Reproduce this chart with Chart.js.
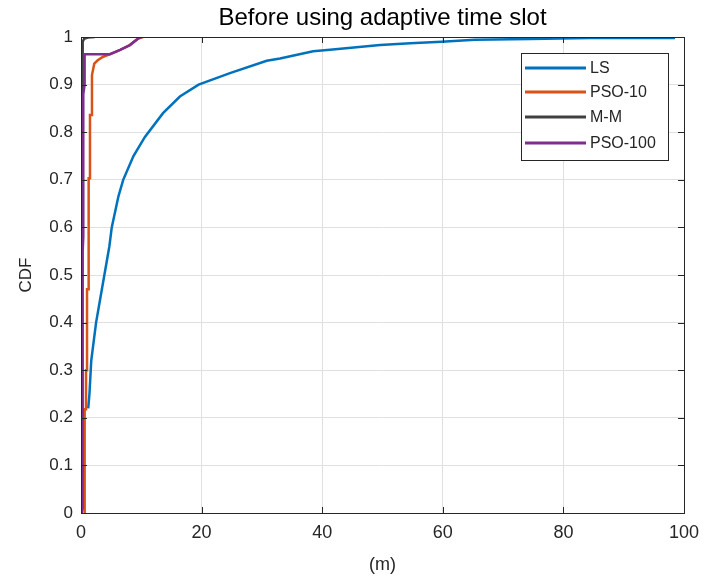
<!DOCTYPE html>
<html>
<head>
<meta charset="utf-8">
<script src="https://cdn.jsdelivr.net/npm/chart.js@4.4.0/dist/chart.umd.min.js"></script>
<style>
  html, body { margin: 0; padding: 0; background: #fff; }
  #wrap { width: 705px; height: 578px; position: relative; }
</style>
</head>
<body>
<div id="wrap"><canvas id="chart"></canvas></div>
<script>
// values
const chartTitle = 'Before using adaptive time slot';
const seriesNames = ['LS', 'PSO-10', 'M-M', 'PSO-100'];
const seriesColors = ['#0072BD', '#D95319', '#404040', '#7E2F8E'];

const lsX = [1.2, 1.4, 1.7, 2.5, 3.6, 4.7, 5.1, 6.2, 7.0, 8.7, 10.6, 13.6, 16.4, 19.5, 24.7, 30.8, 33, 38.5, 41.3, 49.6, 54.6, 59.8, 65.3, 74.5, 84.4, 98.5];
const lsY = [0.22, 0.25, 0.32, 0.40, 0.48, 0.56, 0.60, 0.665, 0.70, 0.75, 0.79, 0.84, 0.875, 0.90, 0.924, 0.95, 0.955, 0.97, 0.973, 0.983, 0.987, 0.99, 0.994, 0.996, 0.998, 0.998];

const pso10X = [0.5, 0.5, 0.66, 0.66, 0.83, 0.83, 1.0, 1.0, 1.27, 1.27, 1.49, 1.49, 1.82, 1.82, 2.2, 2.77, 3.6, 5.25, 6.5, 8.1, 9.5, 10.3];
const pso10Y = [0, 0.043, 0.043, 0.218, 0.218, 0.30, 0.30, 0.47, 0.47, 0.703, 0.703, 0.836, 0.836, 0.92, 0.944, 0.951, 0.958, 0.966, 0.973, 0.983, 0.997, 1];

const mmX = [0.05, 0.05, 0.15, 0.15, 0.28, 0.28, 0.5, 1.1, 2.3];
const mmY = [0, 0.52, 0.53, 0.56, 0.6, 0.99, 0.996, 0.999, 1];

const pso100X = [0.1, 0.28, 0.28, 0.38, 0.38, 0.6, 0.6, 4.8, 6.5, 8.1, 9.5, 10.0];
const pso100Y = [0, 0.01, 0.55, 0.58, 0.88, 0.9, 0.964, 0.964, 0.973, 0.983, 0.997, 1];

const xTicks = [0, 20, 40, 60, 80, 100];
const yTicks = [0, 0.1, 0.2, 0.3, 0.4, 0.5, 0.6, 0.7, 0.8, 0.9, 1];

const FONT = "'Liberation Sans', Arial, sans-serif";
const AXIS = '#262626';

function toPoints(xs, ys) {
  return xs.map((x, i) => ({ x: x, y: ys[i] }));
}

const allX = [lsX, pso10X, mmX, pso100X];
const allY = [lsY, pso10Y, mmY, pso100Y];

// box, inner tick marks, legend (matlab style)
const matlabAxes = {
  id: 'matlabAxes',
  afterDatasetsDraw(chart) {
    const ctx = chart.ctx;
    const a = chart.chartArea;
    const xs = chart.scales.x;
    const ys = chart.scales.y;
    ctx.save();
    ctx.strokeStyle = AXIS;
    ctx.lineWidth = 1;
    ctx.beginPath();
    xTicks.forEach((v) => {
      const px = Math.round(xs.getPixelForValue(v)) + 0.5;
      ctx.moveTo(px, a.bottom); ctx.lineTo(px, a.bottom - 6);
      ctx.moveTo(px, a.top); ctx.lineTo(px, a.top + 6);
    });
    yTicks.forEach((v) => {
      const py = Math.round(ys.getPixelForValue(v)) + 0.5;
      ctx.moveTo(a.left, py); ctx.lineTo(a.left + 6, py);
      ctx.moveTo(a.right, py); ctx.lineTo(a.right - 6, py);
    });
    ctx.stroke();
    ctx.strokeRect(Math.round(a.left) + 0.5, Math.round(a.top) + 0.5,
      Math.round(a.right - a.left), Math.round(a.bottom - a.top));

    // legend box
    const lx = 521, ly = 53, lw = 147, lh = 107;
    ctx.fillStyle = '#fff';
    ctx.fillRect(lx, ly, lw, lh);
    ctx.strokeStyle = AXIS;
    ctx.strokeRect(lx + 0.5, ly + 0.5, lw, lh);
    ctx.font = '16px ' + FONT;
    ctx.textBaseline = 'middle';
    const rows = [68, 92, 117, 143];
    seriesNames.forEach((name, i) => {
      ctx.strokeStyle = seriesColors[i];
      ctx.lineWidth = 3;
      ctx.beginPath();
      ctx.moveTo(525, rows[i]); ctx.lineTo(586, rows[i]);
      ctx.stroke();
      ctx.fillStyle = '#262626';
      ctx.fillText(name, 590, rows[i] + 1);
    });
    ctx.restore();
  },
  afterDraw(chart) {
    const ctx = chart.ctx;
    const a = chart.chartArea;
    ctx.save();
    ctx.font = '24px ' + FONT;
    ctx.fillStyle = '#000';
    ctx.textAlign = 'center';
    ctx.textBaseline = 'middle';
    ctx.fillText(chartTitle, (a.left + a.right) / 2, 18);
    ctx.restore();
  }
};

const datasets = seriesNames.map((name, i) => ({
  label: name,
  data: toPoints(allX[i], allY[i]),
  borderColor: seriesColors[i],
  backgroundColor: seriesColors[i],
  borderWidth: 2.5,
  pointRadius: 0,
  tension: 0,
  fill: false,
  order: seriesNames.length - i,
}));

new Chart(document.getElementById('chart'), {
  type: 'line',
  data: { datasets: datasets },
  plugins: [matlabAxes],
  options: {
    responsive: true,
    maintainAspectRatio: false,
    animation: false,
    layout: { padding: { top: 37, right: 21, bottom: 0, left: 0 } },
    plugins: {
      legend: { display: false },
      title: { display: false },
      tooltip: { enabled: false },
    },
    scales: {
      x: {
        type: 'linear',
        min: 0,
        max: 100,
        afterBuildTicks: (s) => { s.ticks = xTicks.map((v) => ({ value: v })); },
        afterFit: (s) => { s.height = 65; s.paddingLeft = 0; s.paddingRight = 0; },
        grid: { color: '#e0e0e0', drawTicks: false },
        border: { display: false },
        ticks: { color: AXIS, padding: 9, maxRotation: 0, font: { family: FONT, size: 18 } },
        title: {
          display: true,
          text: '(m)',
          color: AXIS,
          font: { family: FONT, size: 18 },
          padding: { top: 0, bottom: 2 },
        },
      },
      y: {
        min: 0,
        max: 1,
        afterBuildTicks: (s) => { s.ticks = yTicks.map((v) => ({ value: v })); },
        afterFit: (s) => { s.width = 81; s.paddingTop = 0; s.paddingBottom = 0; },
        grid: { color: '#e0e0e0', drawTicks: false },
        border: { display: false },
        ticks: {
          color: AXIS,
          padding: 8,
          font: { family: FONT, size: 17 },
          callback: (v) => String(Number(v.toFixed(1))),
        },
        title: {
          display: true,
          text: 'CDF',
          color: AXIS,
          font: { family: FONT, size: 17 },
          padding: { top: 16, bottom: 0 },
        },
      },
    },
  },
});
</script>
</body>
</html>
